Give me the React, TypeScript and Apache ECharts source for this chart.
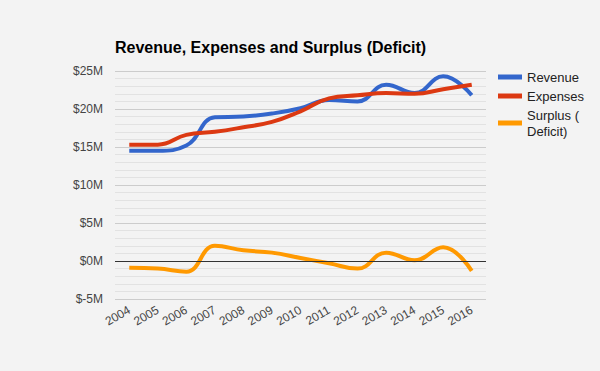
import React, { useEffect, useRef } from "react";
import * as echarts from "echarts";

const years = ["2004","2005","2006","2007","2008","2009","2010","2011","2012","2013","2014","2015","2016"];
const revenue = [14.5, 14.5, 15.2, 18.9, 19.0, 19.4, 20.1, 21.2, 21.0, 23.2, 22.1, 24.3, 21.8];
const expenses = [15.3, 15.3, 16.6, 17.0, 17.6, 18.3, 19.7, 21.4, 21.8, 22.1, 22.0, 22.6, 23.2];
const surplus = [-0.9, -1.0, -1.4, 2.0, 1.4, 1.1, 0.4, -0.3, -1.0, 1.1, 0.1, 1.8, -1.3];
const yTicks = { min: -5, max: 25, interval: 5 };

export default function App() {
  const ref = useRef<HTMLDivElement>(null);
  useEffect(() => {
    document.body.style.margin = "0";
    const chart = echarts.init(ref.current!, null, { renderer: "svg" });
    const font = "'Liberation Sans', Arial, sans-serif";
    const mk = (name: string, data: number[], color: string, extra: any = {}) => ({
      name, type: "line", data, smooth: 0.45, showSymbol: false, symbol: "none",
      lineStyle: { color, width: 4 }, itemStyle: { color }, ...extra,
    });
    chart.setOption({
      animation: false,
      backgroundColor: "#f3f3f3",
      textStyle: { fontFamily: font },
      title: {
        text: "Revenue, Expenses and Surplus (Deficit)",
        left: 110, top: 34,
        textStyle: { fontSize: 16, fontWeight: "bold", color: "#000", fontFamily: font },
      },
      legend: {
        orient: "vertical", left: 498, top: 69, itemGap: 3, padding: 0,
        icon: "rect", itemWidth: 24, itemHeight: 5,
        textStyle: { fontSize: 13, color: "#222", fontFamily: font, lineHeight: 16 },
        data: ["Revenue", "Expenses", "Surplus (\nDeficit)"],
      },
      grid: { left: 115, right: 114, top: 71, bottom: 72 },
      xAxis: {
        type: "category", data: years, boundaryGap: true,
        axisLine: { show: false, onZero: false }, axisTick: { show: false },
        axisLabel: { interval: 0, rotate: 30, fontSize: 12, color: "#444", margin: 10, fontFamily: font },
        splitLine: { show: false },
      },
      yAxis: {
        type: "value", ...yTicks,
        axisLine: { show: false }, axisTick: { show: false },
        axisLabel: { fontSize: 12, color: "#444", margin: 12, fontFamily: font, formatter: (v: number) => "$" + v + "M" },
        splitLine: { lineStyle: { color: "#cccccc", width: 1 } },
        minorTick: { show: false, splitNumber: 5 },
        minorSplitLine: { show: true, lineStyle: { color: "#e2e2e2", width: 1 } },
      },
      series: [
        mk("Revenue", revenue, "#3366cc"),
        mk("Expenses", expenses, "#dc3912"),
        mk("Surplus (\nDeficit)", surplus, "#ff9900", {
          markLine: {
            silent: true, symbol: "none", label: { show: false },
            lineStyle: { color: "#333", width: 1, type: "solid" },
            data: [{ yAxis: 0 }],
          },
        }),
      ],
    });
    return () => chart.dispose();
  }, []);
  return <div ref={ref} style={{ width: 600, height: 371 }} />;
}
